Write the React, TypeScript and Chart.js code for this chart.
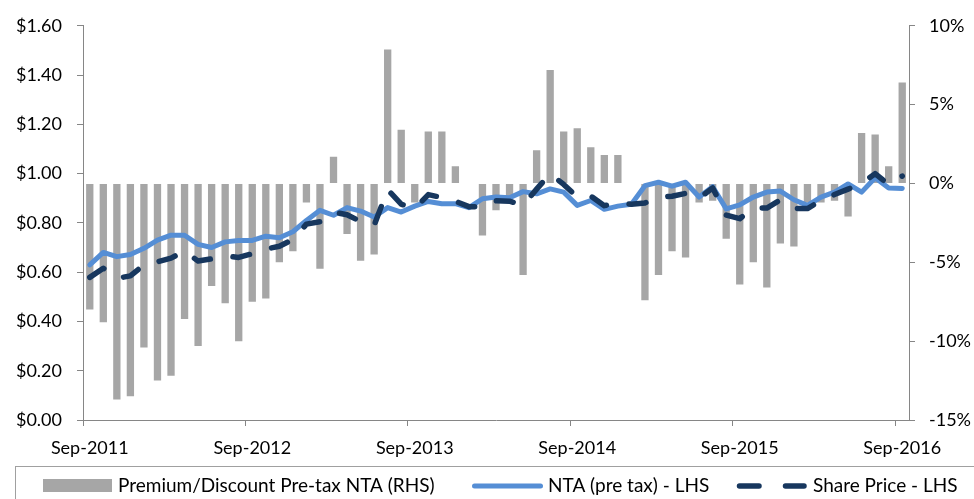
import React, { useEffect, useRef } from "react";
import { Chart, registerables } from "chart.js";

Chart.register(...registerables);

const months = [
  "Sep-2011","Oct-2011","Nov-2011","Dec-2011","Jan-2012","Feb-2012","Mar-2012","Apr-2012","May-2012","Jun-2012","Jul-2012","Aug-2012",
  "Sep-2012","Oct-2012","Nov-2012","Dec-2012","Jan-2013","Feb-2013","Mar-2013","Apr-2013","May-2013","Jun-2013","Jul-2013","Aug-2013",
  "Sep-2013","Oct-2013","Nov-2013","Dec-2013","Jan-2014","Feb-2014","Mar-2014","Apr-2014","May-2014","Jun-2014","Jul-2014","Aug-2014",
  "Sep-2014","Oct-2014","Nov-2014","Dec-2014","Jan-2015","Feb-2015","Mar-2015","Apr-2015","May-2015","Jun-2015","Jul-2015","Aug-2015",
  "Sep-2015","Oct-2015","Nov-2015","Dec-2015","Jan-2016","Feb-2016","Mar-2016","Apr-2016","May-2016","Jun-2016","Jul-2016","Aug-2016",
  "Sep-2016",
];

// Premium / discount to pre-tax NTA, % (right axis)
const premiumDiscount = [
  -8.0, -8.8, -13.7, -13.5, -10.4, -12.5, -12.2, -8.6, -10.3, -6.5, -7.6, -10.0,
  -7.5, -7.3, -5.0, -4.3, -1.2, -5.4, 1.7, -3.2, -4.9, -4.5, 8.5, 3.4,
  -1.2, 3.3, 3.3, 1.1, 0.0, -3.3, -1.7, -1.2, -5.8, 2.1, 7.2, 3.3,
  3.5, 2.3, 1.8, 1.8, 0.0, -7.4, -5.8, -4.3, -4.7, -1.2, -1.1, -3.5,
  -6.4, -5.0, -6.6, -3.8, -4.0, -1.2, -1.2, -1.1, -2.1, 3.2, 3.1, 1.1,
  6.4,
];

// NTA (pre tax), $ (left axis)
const ntaPreTax = [
  0.63, 0.68, 0.663, 0.672, 0.697, 0.73, 0.75, 0.75, 0.713, 0.70, 0.723, 0.729,
  0.729, 0.746, 0.74, 0.764, 0.81, 0.851, 0.831, 0.862, 0.848, 0.824, 0.862, 0.844,
  0.868, 0.887, 0.878, 0.878, 0.862, 0.898, 0.905, 0.902, 0.927, 0.918, 0.938, 0.925,
  0.871, 0.891, 0.855, 0.868, 0.876, 0.951, 0.965, 0.949, 0.965, 0.905, 0.947, 0.857,
  0.873, 0.905, 0.925, 0.929, 0.894, 0.871, 0.905, 0.925, 0.958, 0.925, 0.983, 0.942,
  0.94,
];

// Share price, $ (left axis)
const sharePrice = [
  0.579, 0.616, 0.575, 0.585, 0.63, 0.642, 0.657, 0.686, 0.645, 0.654, 0.666, 0.66,
  0.675, 0.694, 0.705, 0.733, 0.795, 0.805, 0.844, 0.833, 0.806, 0.79, 0.935, 0.876,
  0.858, 0.915, 0.903, 0.888, 0.866, 0.865, 0.89, 0.888, 0.872, 0.937, 1.0, 0.956,
  0.905, 0.909, 0.87, 0.882, 0.876, 0.881, 0.904, 0.908, 0.92, 0.9, 0.942, 0.832,
  0.817, 0.86, 0.86, 0.893, 0.858, 0.858, 0.891, 0.915, 0.937, 0.96, 1.0, 0.955,
  0.99,
];

const seriesLabels = [
  "Premium/Discount Pre-tax NTA (RHS)",
  "NTA (pre tax) - LHS",
  "Share Price - LHS",
];

const BAR_COLOR = "#A6A6A6";
const NTA_COLOR = "#558ED5";
const SP_COLOR = "#17375E";
const AXIS_COLOR = "#868686";
const FONT = "Lato, 'Open Sans', sans-serif";

const legendPlugin = {
  id: "customLegend",
  afterDraw(chart: any) {
    const ctx = chart.ctx as CanvasRenderingContext2D;
    ctx.save();
    // frame
    ctx.strokeStyle = "#A0A0A0";
    ctx.lineWidth = 1;
    ctx.strokeRect(15.5, 466.5, 1000, 100);
    const cy = 486;
    ctx.font = `19px ${FONT}`;
    ctx.fillStyle = "#000";
    ctx.textBaseline = "middle";
    ctx.textAlign = "left";
    // item 1: bar
    ctx.fillStyle = BAR_COLOR;
    ctx.fillRect(43, 479, 69, 13);
    ctx.fillStyle = "#000";
    ctx.fillText(chart.data.datasets[2].label, 118, cy);
    // item 2: NTA line
    ctx.strokeStyle = NTA_COLOR;
    ctx.lineWidth = 5;
    ctx.lineCap = "round";
    ctx.beginPath();
    ctx.moveTo(474.5, cy);
    ctx.lineTo(540.5, cy);
    ctx.stroke();
    ctx.fillText(chart.data.datasets[1].label, 548, cy);
    // item 3: share price dashed
    ctx.strokeStyle = SP_COLOR;
    ctx.lineWidth = 5.5;
    ctx.beginPath();
    ctx.moveTo(739.5, cy);
    ctx.lineTo(759, cy);
    ctx.moveTo(785.5, cy);
    ctx.lineTo(804, cy);
    ctx.stroke();
    ctx.fillText(chart.data.datasets[0].label, 813, cy);
    ctx.restore();
  },
};

export default function App() {
  const canvasRef = useRef<HTMLCanvasElement | null>(null);

  useEffect(() => {
    if (!canvasRef.current) return;
    Chart.defaults.font.family = FONT;
    const chart = new Chart(canvasRef.current, {
      type: "bar",
      data: {
        labels: months,
        datasets: [
          {
            type: "line",
            label: seriesLabels[2],
            data: sharePrice,
            yAxisID: "y",
            borderColor: SP_COLOR,
            borderWidth: 5.5,
            borderDash: [17, 23],
            borderCapStyle: "round",
            borderJoinStyle: "round",
            pointRadius: 0,
            tension: 0,
            fill: false,
            order: 1,
          } as any,
          {
            type: "line",
            label: seriesLabels[1],
            data: ntaPreTax,
            yAxisID: "y",
            borderColor: NTA_COLOR,
            borderWidth: 5,
            borderCapStyle: "round",
            borderJoinStyle: "round",
            pointRadius: 0,
            tension: 0,
            fill: false,
            order: 2,
          } as any,
          {
            type: "bar",
            label: seriesLabels[0],
            data: premiumDiscount,
            yAxisID: "y1",
            backgroundColor: BAR_COLOR,
            categoryPercentage: 1,
            barPercentage: 0.54,
            order: 3,
          } as any,
        ],
      },
      options: {
        responsive: false,
        animation: false,
        layout: { padding: { top: 22, bottom: 39, left: 0, right: 0 } },
        plugins: {
          legend: { display: false },
          tooltip: { enabled: false },
        },
        scales: {
          x: {
            type: "category",
            offset: true,
            grid: {
              display: true,
              offset: true,
              drawOnChartArea: false,
              drawTicks: true,
              tickLength: 6,
              color: (c: any) =>
                typeof c.index === "number" && c.index % 12 === 0 ? AXIS_COLOR : "rgba(0,0,0,0)",
            },
            border: { display: true, color: AXIS_COLOR, width: 1 },
            ticks: {
              autoSkip: false,
              maxRotation: 0,
              minRotation: 0,
              padding: 11,
              color: "#000",
              font: { size: 18, family: FONT },
              callback: (_v: any, i: number) => (i % 12 === 0 ? months[i] : ""),
            },
            afterFit: (s: any) => {
              s.height = 40;
            },
          },
          y: {
            position: "left",
            min: 0,
            max: 1.6,
            grid: { drawOnChartArea: false, drawTicks: true, tickLength: 6, color: AXIS_COLOR },
            border: { display: true, color: AXIS_COLOR, width: 1 },
            ticks: {
              stepSize: 0.2,
              padding: 15,
              color: "#000",
              font: { size: 18, family: FONT },
              callback: (v: any) => "$" + Number(v).toFixed(2),
            },
            afterFit: (s: any) => {
              s.width = 83;
            },
          },
          y1: {
            position: "right",
            min: -15,
            max: 10,
            grid: { drawOnChartArea: false, drawTicks: true, tickLength: 6, color: AXIS_COLOR },
            border: { display: true, color: AXIS_COLOR, width: 1 },
            ticks: {
              stepSize: 5,
              padding: 14,
              color: "#000",
              font: { size: 18, family: FONT },
              callback: (v: any) => Math.round(Number(v)) + "%",
            },
            afterFit: (s: any) => {
              s.width = 65;
            },
          },
        },
      },
      plugins: [legendPlugin],
    });
    return () => chart.destroy();
  }, []);

  return (
    <div style={{ position: "absolute", left: 0, top: 0, width: 974, height: 499, background: "#fff" }}>
      <canvas ref={canvasRef} width={974} height={499} style={{ display: "block" }} />
    </div>
  );
}
